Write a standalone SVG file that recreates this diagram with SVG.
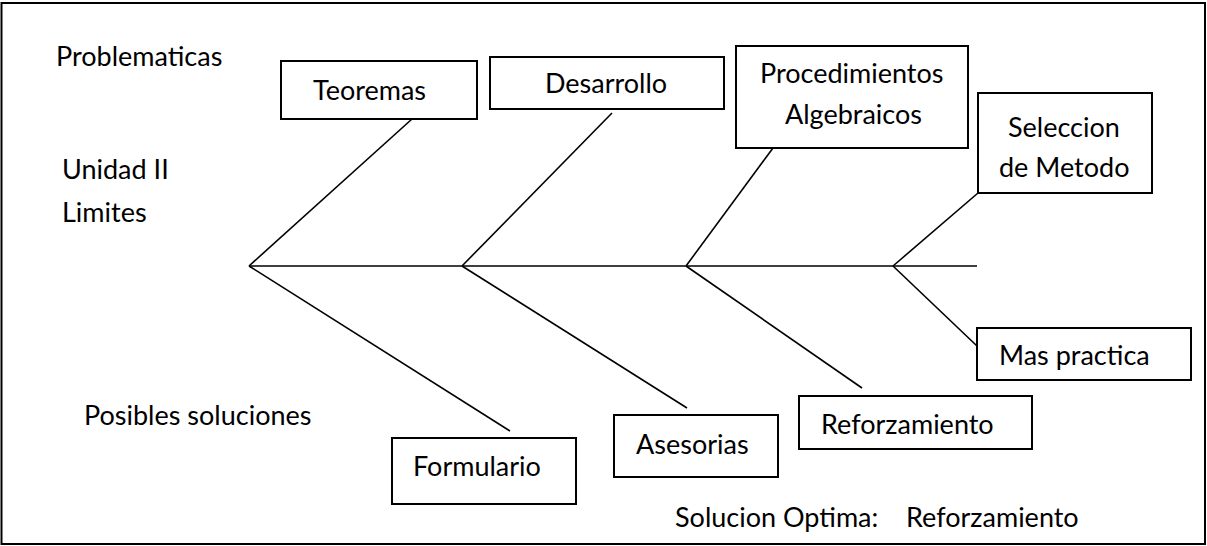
<svg xmlns="http://www.w3.org/2000/svg" width="1207" height="546" viewBox="0 0 1207 546">
<style>
text{font-family:Lato,"Liberation Sans",sans-serif;font-size:27px;fill:#000}
.box{fill:#fff;stroke:#000;stroke-width:2}
.ln{stroke:#000;stroke-width:1.6;fill:none}
</style>
<rect x="1.5" y="3" width="1203.5" height="541" fill="#fff" stroke="#000" stroke-width="2"/>
<g id="labels">
<text x="56" y="66">Problematicas</text>
<text x="62" y="179">Unidad II</text>
<text x="62" y="222">Limites</text>
<text x="84" y="425">Posibles soluciones</text>
<text x="675" y="527">Solucion Optima:</text>
<text x="906" y="527">Reforzamiento</text>
</g>
<g id="connectors">
<line class="ln" x1="249" y1="266" x2="977" y2="266" stroke-width="2"/>
<line class="ln" x1="249" y1="266" x2="412" y2="119"/>
<line class="ln" x1="462" y1="266" x2="612" y2="113"/>
<line class="ln" x1="686" y1="266" x2="773" y2="148"/>
<line class="ln" x1="893" y1="266" x2="978" y2="193"/>
<line class="ln" x1="249" y1="266" x2="510" y2="431"/>
<line class="ln" x1="462" y1="266" x2="687" y2="408"/>
<line class="ln" x1="686" y1="266" x2="862" y2="388"/>
<line class="ln" x1="893" y1="266" x2="977" y2="346"/>
</g>
<g id="teoremas"><rect class="box" x="281" y="61" width="196" height="58"/><text x="313" y="100">Teoremas</text></g>
<g id="desarrollo"><rect class="box" x="490" y="57" width="234" height="52"/><text x="545" y="93">Desarrollo</text></g>
<g id="procedimientos"><rect class="box" x="736" y="46" width="232" height="102"/><text x="760" y="83">Procedimientos</text><text x="785" y="124">Algebraicos</text></g>
<g id="seleccion"><rect class="box" x="978" y="93" width="174" height="100"/><text x="1008" y="137">Seleccion</text><text x="999" y="177">de Metodo</text></g>
<g id="formulario"><rect class="box" x="392" y="438" width="184" height="66"/><text x="413" y="476">Formulario</text></g>
<g id="asesorias"><rect class="box" x="614" y="415" width="164" height="62"/><text x="636" y="454">Asesorias</text></g>
<g id="reforzamiento"><rect class="box" x="799" y="396" width="233" height="53"/><text x="821" y="434">Reforzamiento</text></g>
<g id="maspractica"><rect class="box" x="977" y="328" width="214" height="52"/><text x="999" y="365">Mas practica</text></g>
</svg>
